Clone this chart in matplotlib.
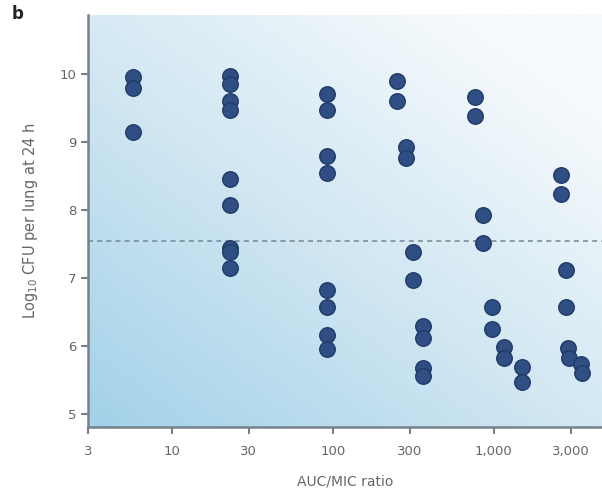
import numpy as np
import matplotlib
matplotlib.use("Agg")
import matplotlib.pyplot as plt
from matplotlib.colors import LinearSegmentedColormap

# AUC/MIC ratio (x) et Log10 CFU (y)
auc_mic = [5.7, 5.7, 5.7,
           23, 23, 23, 23, 23, 23, 23, 23, 23,
           92, 92, 92, 92, 92, 92, 92, 92,
           250, 250, 284, 284, 316, 316, 361, 361, 361, 361,
           760, 760, 850, 850, 980, 980, 1150, 1150, 1490, 1490,
           2620, 2620, 2800, 2800, 2900, 2950, 3500, 3550]
log_cfu = [9.96, 9.80, 9.15,
           9.98, 9.86, 9.60, 9.48, 8.46, 8.07, 7.45, 7.38, 7.15,
           9.71, 9.48, 8.79, 8.54, 6.82, 6.58, 6.16, 5.95,
           9.90, 9.60, 8.93, 8.77, 7.38, 6.97, 6.30, 6.12, 5.68, 5.56,
           9.67, 9.38, 7.93, 7.51, 6.58, 6.25, 5.99, 5.82, 5.69, 5.47,
           8.51, 8.23, 7.12, 6.57, 5.97, 5.83, 5.74, 5.60]
seuil = 7.54

xticks = [3, 10, 30, 100, 300, 1000, 3000]
xticklabels = ["3", "10", "30", "100", "300", "1,000", "3,000"]
yticks = [5, 6, 7, 8, 9, 10]

fig = plt.figure(figsize=(6.02, 4.97), dpi=100)
ax = fig.add_axes([88 / 602, 1 - 427 / 497, 1 - 88 / 602, (427 - 15) / 497])

# fond en dégradé bleu -> blanc
cmap = LinearSegmentedColormap.from_list("fond", ["#a3d1e9", "#cfe6f2", "#f6fafc"])
u, v = np.meshgrid(np.linspace(0, 1, 200), np.linspace(0, 1, 200))
grad = np.clip(0.55 * u + 0.6 * v, 0, 1)
ax.imshow(grad, extent=[0, 1, 0, 1], transform=ax.transAxes, origin="lower",
          cmap=cmap, aspect="auto", zorder=0, interpolation="bilinear")

ax.set_xscale("log")
ax.set_xlim(3, 4700)
ax.set_ylim(4.81, 10.87)

ax.axhline(seuil, color="#7a8e9c", lw=1.2, ls=(0, (3, 2.5)), zorder=1)
ax.scatter(auc_mic, log_cfu, s=125, color="#2f4e84", edgecolor="#223a68",
           linewidth=1.0, zorder=3)

for s in ["top", "right"]:
    ax.spines[s].set_visible(False)
for s in ["left", "bottom"]:
    ax.spines[s].set_color("#75828c")
    ax.spines[s].set_linewidth(1.8)

ax.set_xticks(xticks)
ax.set_xticklabels(xticklabels)
ax.xaxis.set_minor_locator(plt.NullLocator())
ax.set_yticks(yticks)
ax.tick_params(axis="both", colors="#75828c", labelcolor="#666666",
               length=5, width=1.5, labelsize=9.5)
ax.tick_params(axis="x", pad=8)

ax.set_xlabel("AUC/MIC ratio", color="#666666", fontsize=10, labelpad=12)
ax.set_ylabel("Log$_{10}$ CFU per lung at 24 h", color="#666666", fontsize=10.5, labelpad=14)

fig.text(12 / 602, 1 - 14 / 497, "b", fontsize=12, fontweight="bold", va="center", color="#222222")

fig.savefig("out.png", dpi=100)
